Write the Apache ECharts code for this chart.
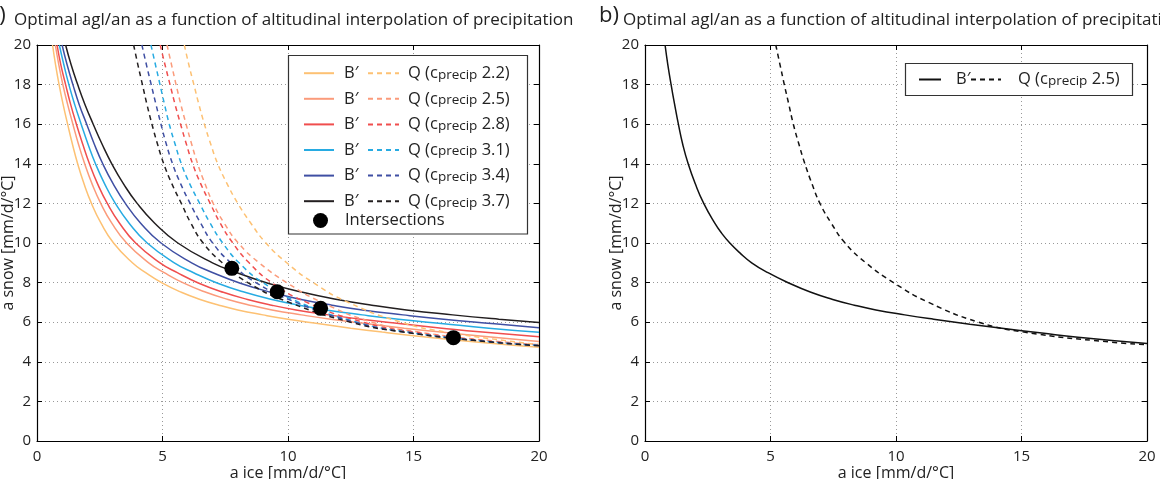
<!DOCTYPE html>
<html><head><meta charset="utf-8">
<script src="https://cdn.jsdelivr.net/npm/echarts@6/dist/echarts.min.js"></script>
<style>html,body{margin:0;padding:0;background:#fff;}#c{width:1160px;height:479px;}</style>
</head><body><div id="c"></div>
<script>
// ---------- data ----------
const cprecip = ['2.2', '2.5', '2.8', '3.1', '3.4', '3.7'];
const xTicks = [0, 5, 10, 15, 20];
const yTicks = [0, 2, 4, 6, 8, 10, 12, 14, 16, 18, 20];

// panel a: B' curves  [a_ice, a_snow]
const bPrime22 = [[0.62,20],[0.74,19],[0.88,18],[1.04,17],[1.22,16],[1.41,15],[1.62,14],[1.87,13],[2.17,12],[2.55,11],[3.05,10],[3.8,9],[4.33,8.5],[5,7.97],[5.75,7.51],[6.5,7.15],[7.25,6.86],[8,6.62],[9,6.37],[10,6.15],[11.25,5.92],[12.5,5.7],[13.75,5.5],[15,5.32],[17.5,5.0],[20,4.73]];
const bPrime25 = [[0.73,20],[0.87,19],[1.03,18],[1.22,17],[1.43,16],[1.65,15],[1.9,14],[2.19,13],[2.54,12],[2.98,11],[3.57,10],[4.45,9],[5.07,8.5],[5.85,7.97],[6.73,7.51],[7.61,7.15],[8.48,6.86],[9.36,6.62],[10.53,6.37],[11.7,6.15],[13.16,5.92],[14.63,5.7],[16.09,5.5],[17.55,5.32],[20,5.03]];
const bPrime28 = [[0.8,20],[0.95,19],[1.14,18],[1.34,17],[1.57,16],[1.82,15],[2.09,14],[2.41,13],[2.8,12],[3.29,11],[3.93,10],[4.9,9],[5.59,8.5],[6.45,7.97],[7.42,7.51],[8.39,7.15],[9.35,6.86],[10.32,6.62],[11.61,6.37],[12.9,6.15],[14.51,5.92],[16.13,5.7],[17.74,5.5],[20,5.26]];
const bPrime31 = [[0.89,20],[1.07,19],[1.27,18],[1.5,17],[1.76,16],[2.03,15],[2.33,14],[2.69,13],[3.12,12],[3.67,11],[4.39,10],[5.47,9],[6.24,8.5],[7.2,7.97],[8.28,7.51],[9.36,7.15],[10.44,6.86],[11.52,6.62],[12.96,6.37],[14.4,6.15],[16.2,5.92],[18.0,5.7],[20,5.49]];
const bPrime34 = [[1.0,20],[1.2,19],[1.43,18],[1.68,17],[1.98,16],[2.28,15],[2.62,14],[3.03,13],[3.52,12],[4.13,11],[4.94,10],[6.16,9],[7.01,8.5],[8.1,7.97],[9.32,7.51],[10.53,7.15],[11.75,6.86],[12.96,6.62],[14.58,6.37],[16.2,6.15],[18.23,5.92],[20,5.72]];
const bPrime37 = [[1.14,20],[1.36,19],[1.62,18],[1.91,17],[2.24,16],[2.59,15],[2.98,14],[3.44,13],[3.99,12],[4.69,11],[5.61,10],[6.99,9],[7.97,8.5],[9.2,7.97],[10.58,7.51],[11.96,7.15],[13.34,6.86],[14.72,6.62],[16.56,6.37],[18.4,6.15],[20,5.98]];

// panel a: Q curves
const q22 = [[5.87,20],[6.05,19],[6.25,18],[6.45,17],[6.67,16],[6.92,15],[7.2,14],[7.57,13],[8.0,12],[8.52,11],[9.12,10],[9.95,9],[11.0,8],[12.4,7],[14.5,6],[16.3,5.5],[19.1,5.0],[20,4.87]];
const q25 = [[5.18,20],[5.36,19],[5.54,18],[5.73,17],[5.94,16],[6.16,15],[6.4,14],[6.69,13],[7.02,12],[7.46,11],[8.02,10],[8.85,9],[9.95,8],[11.35,7],[13.35,6],[15.2,5.5],[18.6,5.0],[20,4.87]];
const q28 = [[4.91,20],[5.1,19],[5.3,18],[5.5,17],[5.72,16],[5.95,15],[6.2,14],[6.52,13],[6.9,12],[7.3,11],[7.8,10],[8.45,9],[9.35,8],[10.75,7],[13.0,6],[15.0,5.5],[18.3,5.0],[20,4.84]];
const q31 = [[4.54,20],[4.72,19],[4.9,18],[5.08,17],[5.27,16],[5.5,15],[5.75,14],[6.08,13],[6.48,12],[6.9,11],[7.4,10],[8.05,9],[9.0,8],[10.45,7],[12.75,6],[14.75,5.5],[18.15,5.0],[20,4.83]];
const q34 = [[4.18,20],[4.36,19],[4.55,18],[4.74,17],[4.94,16],[5.15,15],[5.4,14],[5.72,13],[6.1,12],[6.52,11],[7.0,10],[7.72,9],[8.72,8],[10.32,7],[12.67,6],[14.67,5.5],[18.1,5.0],[20,4.82]];
const q37 = [[3.85,20],[4.02,19],[4.2,18],[4.38,17],[4.58,16],[4.8,15],[5.05,14],[5.37,13],[5.75,12],[6.13,11],[6.62,10],[7.38,9],[8.4,8],[10.05,7],[12.5,6],[14.6,5.5],[18.1,5.0],[20,4.81]];

const intersections = [[7.76,8.72],[9.57,7.54],[11.3,6.7],[16.59,5.22]];

// panel b (c_precip 2.5)
const bPrimeB = [[0.8,20],[0.91,19],[1.04,18],[1.18,17],[1.33,16],[1.5,15],[1.72,14],[2.0,13],[2.34,12],[2.78,11],[3.05,10.5],[3.38,10],[3.78,9.5],[4.25,9],[4.9,8.5],[5.75,7.97],[6.61,7.51],[7.48,7.15],[8.34,6.86],[9.2,6.62],[10.35,6.37],[11.5,6.15],[12.94,5.9],[14.38,5.67],[15.81,5.45],[17.25,5.24],[20,4.92]];
const qB = [[5.21,20],[5.38,19],[5.55,18],[5.73,17],[5.91,16],[6.13,15],[6.37,14],[6.65,13],[6.97,12],[7.42,11],[7.97,10],[8.8,9],[9.9,8],[11.3,7],[13.3,6],[15.1,5.5],[18.5,5.0],[20,4.87]];

// ---------- styling ----------
const FONT = '"Open Sans", "Noto Sans", sans-serif';
const TXT = '#222';
const colors = ['#FDC173', '#FB9B7B', '#F04E4E', '#27ABE2', '#3F4FA3', '#231F20'];
const solids = [bPrime22, bPrime25, bPrime28, bPrime31, bPrime34, bPrime37];
const dashes = [q22, q25, q28, q31, q34, q37];
const DASH = [5, 4];

function xAxes(gi) {
  const base = {gridIndex: gi, type: 'value', min: xTicks[0], max: xTicks[xTicks.length-1], interval: xTicks[1]-xTicks[0]};
  return [
    Object.assign({}, base, {
      position: 'bottom',
      axisLine: {show: true, onZero: false, lineStyle: {color: '#000', width: 1.2}},
      axisTick: {show: true, inside: true, length: 5, lineStyle: {color: '#000'}},
      axisLabel: {margin: 8, fontSize: 15, color: TXT, fontFamily: FONT},
      splitLine: {show: true, lineStyle: {type: [1, 3], color: '#999', width: 1}},
      name: 'a ice [mm/d/°C]', nameLocation: 'middle', nameGap: 24, nameMoveOverlap: false,
      nameTextStyle: {fontSize: 16, color: TXT, fontFamily: FONT}
    }),
    Object.assign({}, base, {
      position: 'top',
      axisLine: {show: true, onZero: false, lineStyle: {color: '#000', width: 1.2}},
      axisTick: {show: true, inside: true, length: 5, lineStyle: {color: '#000'}},
      axisLabel: {show: false}, splitLine: {show: false}
    })
  ];
}
function yAxes(gi) {
  const base = {gridIndex: gi, type: 'value', min: yTicks[0], max: yTicks[yTicks.length-1], interval: yTicks[1]-yTicks[0]};
  return [
    Object.assign({}, base, {
      position: 'left',
      axisLine: {show: true, onZero: false, lineStyle: {color: '#000', width: 1.2}},
      axisTick: {show: true, inside: true, length: 5, lineStyle: {color: '#000'}},
      axisLabel: {margin: 6, fontSize: 15, color: TXT, fontFamily: FONT},
      splitLine: {show: true, lineStyle: {type: [1, 3], color: '#999', width: 1}},
      name: 'a snow [mm/d/°C]', nameLocation: 'middle', nameGap: 21, nameMoveOverlap: false,
      nameTextStyle: {fontSize: 16, color: TXT, fontFamily: FONT}
    }),
    Object.assign({}, base, {
      position: 'right',
      axisLine: {show: true, onZero: false, lineStyle: {color: '#000', width: 1.2}},
      axisTick: {show: true, inside: true, length: 5, lineStyle: {color: '#000'}},
      axisLabel: {show: false}, splitLine: {show: false}
    })
  ];
}

function lineSeries(name, data, xi, yi, color, type) {
  return {
    type: 'line', name: name, data: data, xAxisIndex: xi, yAxisIndex: yi,
    symbol: 'none', smooth: 0.5, clip: true, silent: true,
    lineStyle: {color: color, width: 1.5, type: type},
    itemStyle: {color: color}, z: 2
  };
}

const series = [];
cprecip.forEach((c, i) => series.push(lineSeries('B′ ' + c, solids[i], 0, 0, colors[i], 'solid')));
cprecip.forEach((c, i) => series.push(lineSeries('Q ' + c, dashes[i], 0, 0, colors[i], DASH)));
series.push({
  type: 'scatter', name: 'Intersections', data: intersections, xAxisIndex: 0, yAxisIndex: 0,
  symbol: 'circle', symbolSize: 15, itemStyle: {color: '#000', opacity: 1}, z: 5, silent: true
});
series.push(lineSeries('B′ b', bPrimeB, 2, 2, '#111', 'solid'));
series.push(lineSeries('Q b', qB, 2, 2, '#111', DASH));

const legText = {fontSize: 16.5, color: TXT, fontFamily: FONT, lineHeight: 16};
const qRich = {
  n: {fontSize: 16.5, fontFamily: FONT, color: TXT, lineHeight: 16},
  c: {fontSize: 16.5, fontFamily: FONT, color: TXT, lineHeight: 16},
  s: {fontSize: 13.5, fontFamily: FONT, color: TXT, lineHeight: 16, padding: [3, 0, 0, 0]}
};
function qFormatter(name) {
  const v = name.split(' ')[1];
  return '{n|Q (}{c|c}{s|precip}{n| ' + (v === 'b' ? '2.5' : v) + ')}';
}
const noSym = {opacity: 0};

const option = {
  animation: false,
  backgroundColor: '#fff',
  title: [
    {text: 'Optimal agl/an as a function of altitudinal interpolation of precipitation', left: 14, top: 12, padding: 0,
     textStyle: {fontSize: 17, fontWeight: 'normal', color: TXT, fontFamily: FONT}},
    {text: 'Optimal agl/an as a function of altitudinal interpolation of precipitation', left: 623, top: 12, padding: 0,
     textStyle: {fontSize: 17, fontWeight: 'normal', color: TXT, fontFamily: FONT}}
  ],
  grid: [
    {left: 37, right: 1160 - 539, top: 45, bottom: 479 - 441, containLabel: false, outerBoundsMode: 'none'},
    {left: 645, right: 1160 - 1147, top: 45, bottom: 479 - 441, containLabel: false, outerBoundsMode: 'none'}
  ],
  xAxis: xAxes(0).concat(xAxes(1)),
  yAxis: yAxes(0).concat(yAxes(1)),
  legend: [
    {data: cprecip.map(c => 'B′ ' + c), orient: 'vertical', left: 303, top: 64.7, padding: 0,
     itemWidth: 30, itemHeight: 16, itemGap: 8.6, selectedMode: false, itemStyle: noSym,
     formatter: () => 'B′', textStyle: Object.assign({padding: [0, 0, 0, 5]}, legText)},
    {data: cprecip.map(c => 'Q ' + c), orient: 'vertical', left: 367, top: 64.7, padding: 0,
     itemWidth: 31, itemHeight: 16, itemGap: 8.6, selectedMode: false, itemStyle: noSym,
     formatter: qFormatter, textStyle: Object.assign({padding: [0, 0, 0, 4], rich: qRich}, legText)},
    {data: ['Intersections'], orient: 'vertical', left: 313, top: 212, padding: 0,
     itemWidth: 15, itemHeight: 15, selectedMode: false, textStyle: Object.assign({padding: [0, 0, 0, 12]}, legText)},
    {data: ['B′ b'], left: 918, top: 71, padding: 0, itemWidth: 22, itemHeight: 16, selectedMode: false, itemStyle: noSym,
     formatter: () => 'B′', textStyle: Object.assign({padding: [0, 0, 0, 10]}, legText)},
    {data: ['Q b'], left: 970, top: 71, padding: 0, itemWidth: 30, itemHeight: 16, selectedMode: false, itemStyle: noSym,
     formatter: qFormatter, textStyle: Object.assign({padding: [0, 0, 0, 12], rich: qRich}, legText)}
  ],
  graphic: [
    {type: 'rect', z: 3, shape: {x: 288.5, y: 55.5, width: 239, height: 178.5},
     style: {fill: '#fff', stroke: '#333', lineWidth: 1.2}},
    {type: 'rect', z: 3, shape: {x: 905.5, y: 63.5, width: 227, height: 32},
     style: {fill: '#fff', stroke: '#333', lineWidth: 1.2}},
    {type: 'text', z: 3, x: -13, y: 5, style: {text: 'a)', fontSize: 22, fontFamily: FONT, fill: TXT}},
    {type: 'text', z: 3, x: 599, y: 5, style: {text: 'b)', fontSize: 22, fontFamily: FONT, fill: TXT}}
  ],
  series: series
};

const chart = echarts.init(document.getElementById('c'), null, {renderer: 'canvas'});
chart.setOption(option);
</script></body></html>
